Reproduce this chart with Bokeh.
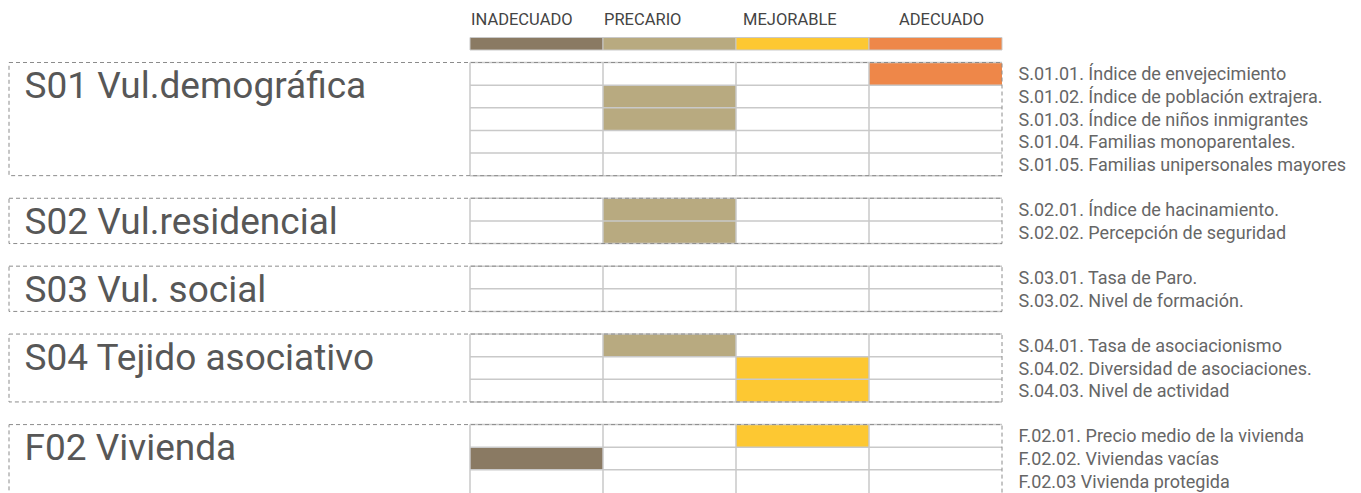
from bokeh.plotting import figure
from bokeh.models import Range1d
from bokeh.core.properties import value
from bokeh.embed import file_html
from bokeh.resources import INLINE

# ---------------- data ----------------
levels = ["INADECUADO", "PRECARIO", "MEJORABLE", "ADECUADO"]
level_colors = ["#8a7a63", "#b8aa80", "#fdc832", "#ee8749"]

groups = ["S01 Vul.demográfica", "S02 Vul.residencial", "S03 Vul. social",
          "S04 Tejido asociativo", "F02 Vivienda"]

s01_items = ["S.01.01. Índice de envejecimiento",
             "S.01.02. Índice de población extrajera.",
             "S.01.03. Índice de niños inmigrantes",
             "S.01.04. Familias monoparentales.",
             "S.01.05. Familias unipersonales mayores"]
s02_items = ["S.02.01. Índice de hacinamiento.",
             "S.02.02. Percepción de seguridad"]
s03_items = ["S.03.01. Tasa de Paro.",
             "S.03.02. Nivel de formación."]
s04_items = ["S.04.01. Tasa de asociacionismo",
             "S.04.02. Diversidad de asociaciones.",
             "S.04.03. Nivel de actividad"]
f02_items = ["F.02.01. Precio medio de la vivienda",
             "F.02.02. Viviendas vacías",
             "F.02.03 Vivienda protegida"]

# level index per indicator (None = no value)
s01_level = [3, 1, 1, None, None]
s02_level = [1, 1]
s03_level = [None, None]
s04_level = [1, 2, 2]
f02_level = [2, 0, None]

group_items = [s01_items, s02_items, s03_items, s04_items, f02_items]
group_levels = [s01_level, s02_level, s03_level, s04_level, f02_level]

# ---------------- layout ----------------
W, H = 1353, 493
X0, Y0 = 0, 0
UNIT = 22.63                  # row height
TOP0 = 62.0                   # top of first group
GX0 = 469.5                   # grid left
COLW = 133.0                  # column width
NCOL = len(levels)
GX1 = GX0 + NCOL * COLW       # grid right
BX0 = 8.5                     # dashed box left
LEG_TOP, LEG_BOT = 37.0, 49.5
LEG_LABEL_DX = [1, 1, 7, 30]
GRID_COLOR = "#c9c9c9"
DASH_COLOR = "#8c8c8c"
FONT = "Roboto"

p = figure(width=W, height=H, output_backend="svg", toolbar_location=None,
           x_range=Range1d(X0, X0 + W), y_range=Range1d(Y0 + H, Y0),
           min_border=0, outline_line_color=None)
p.axis.visible = False
p.grid.visible = False
p.background_fill_color = "white"

# legend bars
lx0 = [GX0 + i * COLW for i in range(NCOL)]
p.quad(left=lx0, right=[x + COLW for x in lx0], top=[LEG_TOP] * NCOL,
       bottom=[LEG_BOT] * NCOL, fill_color=level_colors,
       line_color=GRID_COLOR, line_width=1)
p.text(x=[x + d for x, d in zip(lx0, LEG_LABEL_DX)], y=[19] * NCOL, text=levels,
       text_font=value(FONT), text_font_size="16.5px", text_color="#444444",
       text_baseline="middle", text_align="left")

# groups
cell_l, cell_r, cell_t, cell_b, cell_c = [], [], [], [], []
hl_x0, hl_x1, hl_y = [], [], []
vl_x, vl_t, vl_b = [], [], []
dash_xs, dash_ys = [], []
lab_x, lab_y, lab_t = [], [], []
item_x, item_y, item_t = [], [], []

unit_idx = 0
n_groups = len(groups)
for g, (name, items, lvls) in enumerate(zip(groups, group_items, group_levels)):
    top = TOP0 + unit_idx * UNIT
    n = len(items)
    bot = top + n * UNIT
    is_last = g == n_groups - 1
    for r, (it, lv) in enumerate(zip(items, lvls)):
        rt = top + r * UNIT
        if lv is not None:
            cell_l.append(GX0 + lv * COLW)
            cell_r.append(GX0 + (lv + 1) * COLW)
            cell_t.append(rt)
            cell_b.append(rt + UNIT)
            cell_c.append(level_colors[lv])
        item_x.append(1018)
        item_y.append(rt + UNIT / 2)
        item_t.append(it)
    for r in range(n + (0 if is_last else 1)):
        hl_x0.append(GX0)
        hl_x1.append(GX1)
        hl_y.append(top + r * UNIT)
    vb = bot + (8 if is_last else 0)
    for k in range(NCOL):
        vl_x.append(GX0 + k * COLW)
        vl_t.append(top)
        vl_b.append(vb)
    dash_xs.append([BX0, GX1, GX1, BX0, BX0])
    dash_ys.append([top, top, vb, vb, top])
    lab_x.append(24)
    lab_y.append(top + 23)
    lab_t.append(name)
    unit_idx += n + 1

p.quad(left=cell_l, right=cell_r, top=cell_t, bottom=cell_b,
       fill_color=cell_c, line_color=None)
p.segment(x0=hl_x0, x1=hl_x1, y0=hl_y, y1=hl_y, line_color=GRID_COLOR,
          line_width=1.5)
p.segment(x0=vl_x, x1=vl_x, y0=vl_t, y1=vl_b, line_color=GRID_COLOR,
          line_width=1.5)
p.multi_line(xs=dash_xs, ys=dash_ys, line_color=DASH_COLOR, line_width=1,
             line_dash="4 3")

p.text(x=lab_x, y=lab_y, text=lab_t, text_font=value(FONT),
       text_font_size="37px", text_color="#575757", text_baseline="middle",
       text_align="left")
p.text(x=item_x, y=item_y, text=item_t, text_font=value(FONT),
       text_font_size="18px", text_color="#666666", text_baseline="middle",
       text_align="left")

open("out.html", "w").write(file_html(p, INLINE))
